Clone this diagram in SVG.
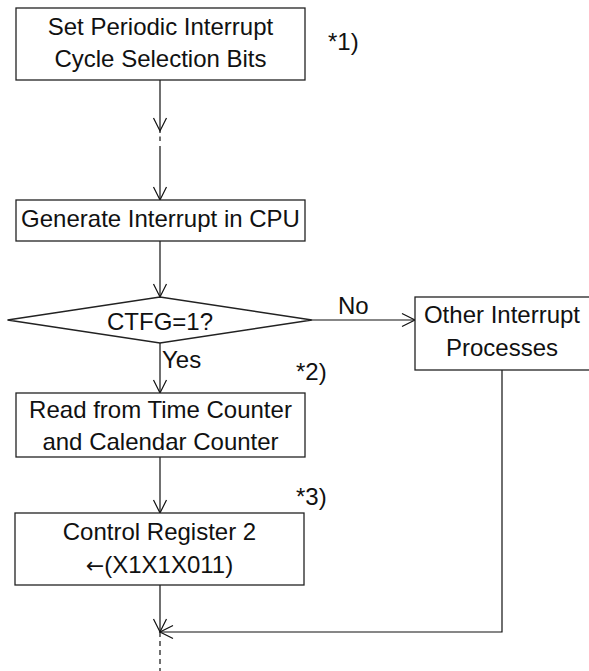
<svg xmlns="http://www.w3.org/2000/svg" width="589" height="671" viewBox="0 0 589 671">
<style>
.box{fill:#fff;stroke:#222;stroke-width:1.3}
.t{font-family:"Liberation Sans",Arial,sans-serif;font-size:24px;fill:#111;text-anchor:middle}
.l{font-family:"Liberation Sans",Arial,sans-serif;font-size:24px;fill:#111}
.c{fill:none;stroke:#111;stroke-width:1.2}
.arw{font-family:"DejaVu Sans",sans-serif;font-size:22px}
</style>
<defs>
<marker id="ah" markerUnits="userSpaceOnUse" markerWidth="16" markerHeight="16" viewBox="-14 -8 16 16" refX="0" refY="0" orient="auto">
<path d="M-13,-6.5 L0,0 L-13,6.5" fill="none" stroke="#111" stroke-width="1.2"/>
</marker>
</defs>
<g id="connectors">
<line class="c" x1="160" y1="80" x2="160" y2="131" marker-end="url(#ah)"/>
<line class="c" x1="160" y1="131" x2="160" y2="133"/>
<line class="c" x1="160" y1="136.5" x2="160" y2="141"/>
<line class="c" x1="160" y1="146" x2="160" y2="200" marker-end="url(#ah)"/>
<line class="c" x1="160" y1="241" x2="160" y2="297" marker-end="url(#ah)"/>
<line class="c" x1="312" y1="320" x2="415" y2="320" marker-end="url(#ah)"/>
<line class="c" x1="160" y1="343" x2="160" y2="393" marker-end="url(#ah)"/>
<line class="c" x1="160" y1="457" x2="160" y2="513" marker-end="url(#ah)"/>
<line class="c" x1="160" y1="585" x2="160" y2="632" marker-end="url(#ah)"/>
<path class="c" d="M502,370 V632 H160" marker-end="url(#ah)"/>
<line class="c" x1="160" y1="632" x2="160" y2="671" stroke-dasharray="5 4"/>
<text class="l" x="338" y="314">No</text>
<text class="l" x="162" y="368">Yes</text>
</g>
<g id="set-cycle">
<rect class="box" x="16" y="8" width="289" height="72"/>
<text class="t" x="160.5" y="35">Set Periodic Interrupt</text>
<text class="t" x="160.5" y="67">Cycle Selection Bits</text>
</g>
<text id="note1" class="l" x="328" y="50">*1)</text>
<g id="generate">
<rect class="box" x="16" y="200" width="289" height="41"/>
<text class="t" x="160.5" y="227">Generate Interrupt in CPU</text>
</g>
<g id="decision">
<polygon class="box" points="7.5,320 160,297 312,320 160,343"/>
<text class="t" x="160" y="330">CTFG=1?</text>
</g>
<g id="other">
<rect class="box" x="415" y="297" width="180" height="73"/>
<text class="t" x="502" y="323">Other Interrupt</text>
<text class="t" x="502" y="356">Processes</text>
</g>
<text id="note2" class="l" x="296" y="380">*2)</text>
<g id="read">
<rect class="box" x="16" y="393" width="289" height="64"/>
<text class="t" x="160.5" y="418">Read from Time Counter</text>
<text class="t" x="160.5" y="450">and Calendar Counter</text>
</g>
<text id="note3" class="l" x="296" y="505">*3)</text>
<g id="control">
<rect class="box" x="15" y="513" width="289" height="72"/>
<text class="t" x="159.5" y="540">Control Register 2</text>
<text class="t" x="159.5" y="573"><tspan class="arw">←</tspan>(X1X1X011)</text>
</g>
</svg>
